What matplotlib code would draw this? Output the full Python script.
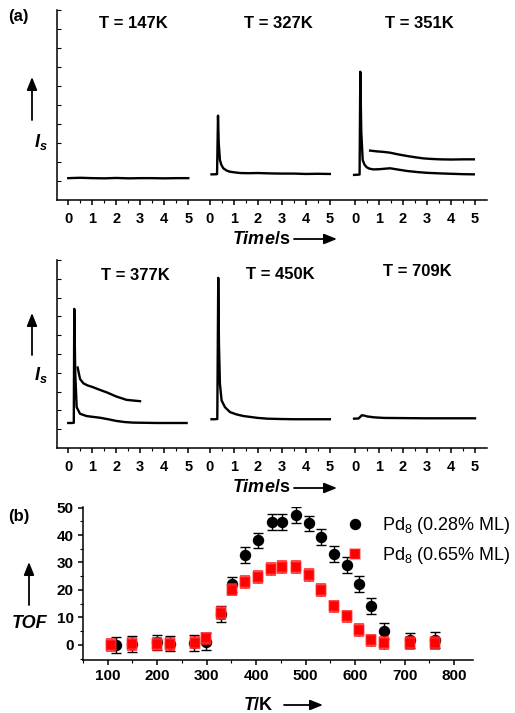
import matplotlib
matplotlib.use("Agg")
import matplotlib.pyplot as plt
import numpy as np

plt.rcParams['font.family'] = ['Liberation Sans', 'DejaVu Sans']
plt.rcParams['mathtext.fontset'] = 'custom'
plt.rcParams['mathtext.rm'] = 'Liberation Sans'
plt.rcParams['mathtext.it'] = 'Liberation Sans:italic'
plt.rcParams['mathtext.bf'] = 'Liberation Sans:bold'
plt.rcParams['mathtext.bfit'] = 'Liberation Sans:italic:bold'

# ---------------- data: panel (a) transients (time in s, intensity arb.) ----------------
seg_offsets = [0.0, 5.9, 11.95]
time_tick_labels = ["0", "1", "2", "3", "4", "5"]

top_titles = ["T = 147K", "T = 327K", "T = 351K"]
bot_titles = ["T = 377K", "T = 450K", "T = 709K"]

t147 = [0, 0.5, 1, 1.5, 2, 2.5, 3, 3.5, 4, 4.5, 5]
i147 = [1.15, 1.17, 1.15, 1.14, 1.16, 1.14, 1.15, 1.15, 1.14, 1.15, 1.15]

t327 = [0.07, 0.15, 0.30, 0.34, 0.37, 0.42, 0.48, 0.56, 0.7, 0.83, 1.0, 1.25, 1.6, 2.0, 2.5, 3, 3.5, 4, 4.5, 5]
i327 = [1.35, 1.35, 1.36, 4.44, 3.0, 2.1, 1.85, 1.67, 1.55, 1.49, 1.46, 1.42, 1.41, 1.42, 1.40, 1.39, 1.39, 1.37, 1.38, 1.37]

t351_low = [-0.04, 0.1, 0.19, 0.22, 0.26, 0.32, 0.4, 0.49, 0.6, 0.76, 1.0, 1.46, 1.8, 2.15, 2.6, 3.0, 3.54, 4.0, 4.5, 4.95]
i351_low = [1.32, 1.33, 1.34, 6.75, 3.6, 2.1, 1.85, 1.72, 1.65, 1.61, 1.62, 1.67, 1.60, 1.53, 1.47, 1.43, 1.40, 1.38, 1.36, 1.35]
t351_up = [0.63, 0.9, 1.2, 1.46, 1.8, 2.15, 2.5, 2.85, 3.2, 3.54, 4.0, 4.5, 4.95]
i351_up = [2.60, 2.56, 2.53, 2.49, 2.40, 2.32, 2.25, 2.19, 2.16, 2.14, 2.13, 2.14, 2.14]

t377_low = [0.0, 0.15, 0.23, 0.25, 0.29, 0.35, 0.49, 0.76, 1.0, 1.32, 1.7, 2.0, 2.35, 2.7, 3.2, 3.7, 4.3, 4.93]
i377_low = [1.33, 1.33, 1.34, 7.40, 4.0, 2.17, 1.82, 1.70, 1.66, 1.61, 1.52, 1.44, 1.38, 1.35, 1.34, 1.33, 1.33, 1.33]
t377_up = [0.39, 0.49, 0.63, 0.8, 1.04, 1.3, 1.6, 2.0, 2.43, 2.99]
i377_up = [4.28, 3.67, 3.44, 3.33, 3.23, 3.10, 2.96, 2.74, 2.56, 2.49]

t450 = [0.07, 0.2, 0.31, 0.35, 0.38, 0.42, 0.49, 0.63, 0.84, 1.1, 1.4, 1.7, 2.0, 2.4, 3.0, 3.5, 4.0, 4.5, 5.0]
i450 = [1.53, 1.53, 1.54, 9.05, 5.5, 3.4, 2.53, 2.17, 1.91, 1.79, 1.70, 1.65, 1.60, 1.56, 1.54, 1.53, 1.53, 1.53, 1.53]

t709 = [-0.04, 0.15, 0.28, 0.4, 0.5, 0.8, 1.2, 2.0, 3.0, 4.0, 5.0]
i709 = [1.56, 1.57, 1.74, 1.72, 1.68, 1.63, 1.60, 1.59, 1.58, 1.58, 1.58]

# ---------------- data: panel (b) TOF vs T ----------------
T_a = [116, 148, 199, 225, 275, 299, 328, 351, 378, 404, 431, 452, 481, 507, 531, 558, 583, 608, 632, 659, 711, 761]
TOF_a = [0.0, 0.3, 0.9, 0.5, 0.7, 1.2, 11.3, 22.0, 32.6, 38.1, 44.8, 44.8, 47.3, 44.3, 39.3, 33.2, 29.2, 22.3, 14.0, 5.1, 1.6, 1.8]
err_a = [2.9, 2.9, 2.8, 2.8, 2.8, 3.0, 3.0, 2.8, 2.9, 2.8, 2.8, 2.8, 2.8, 2.8, 2.9, 2.9, 2.9, 2.9, 2.9, 2.9, 2.8, 2.8]

T_b = [107, 148, 199, 225, 276, 299, 328, 351, 378, 404, 429, 452, 481, 507, 531, 558, 583, 608, 632, 659, 711, 761]
TOF_b = [0.0, 0.25, 0.25, 0.25, 0.85, 2.4, 11.6, 20.1, 22.8, 24.7, 27.7, 28.4, 28.3, 25.5, 19.9, 14.0, 10.4, 5.5, 1.6, 0.6, 0.6, 0.6]
err_b = [2.1] * 22

label_a = "Pd$_8$ (0.28% ML)"
label_b = "Pd$_8$ (0.65% ML)"
T_ticks = [100, 200, 300, 400, 500, 600, 700, 800]
TOF_ticks = [0, 10, 20, 30, 40, 50]

# ---------------- figure ----------------
W, H = 515, 713
fig = plt.figure(figsize=(W / 100, H / 100), dpi=100)


def fx(px):
    return px / W


def fy(py):
    return 1 - py / H


def style_a(ax):
    ax.set_xlim(-0.47, 17.45)
    ax.set_ylim(0, 10)
    for s in ['top', 'right']:
        ax.spines[s].set_visible(False)
    for s in ['left', 'bottom']:
        ax.spines[s].set_linewidth(1.1)
    ticks = []
    labels = []
    minors = []
    for off in seg_offsets:
        for k, lab in enumerate(time_tick_labels):
            ticks.append(off + k)
            labels.append(lab)
            if k < 5:
                minors.append(off + k + 0.5)
    ax.set_xticks(ticks)
    ax.set_xticklabels(labels, fontsize=10.5, fontweight='bold')
    ax.set_xticks(minors, minor=True)
    ax.set_yticks(np.arange(1, 11))
    ax.set_yticklabels([])
    ax.tick_params(axis='x', which='major', direction='out', length=3.5, width=1.1, pad=5)
    ax.tick_params(axis='x', which='minor', direction='out', length=2, width=0.8)
    ax.tick_params(axis='y', which='major', direction='in', length=3, width=0.8)


lw = 1.7
ax1 = fig.add_axes([fx(57), fy(200), fx(487) - fx(57), fy(10) - fy(200)])
style_a(ax1)
ax1.plot(np.array(t147) + seg_offsets[0], i147, color='black', lw=lw)
ax1.plot(np.array(t327) + seg_offsets[1], i327, color='black', lw=lw)
ax1.plot(np.array(t351_low) + seg_offsets[2], i351_low, color='black', lw=lw)
ax1.plot(np.array(t351_up) + seg_offsets[2], i351_up, color='black', lw=lw)

ax2 = fig.add_axes([fx(57), fy(448), fx(487) - fx(57), fy(260) - fy(448)])
style_a(ax2)
ax2.plot(np.array(t377_low) + seg_offsets[0], i377_low, color='black', lw=lw)
ax2.plot(np.array(t377_up) + seg_offsets[0], i377_up, color='black', lw=lw)
ax2.plot(np.array(t450) + seg_offsets[1], i450, color='black', lw=lw)
ax2.plot(np.array(t709) + seg_offsets[2], i709, color='black', lw=lw)

# titles
for xc, yc, txt in zip([133, 278, 419], [23, 23, 23], top_titles):
    fig.text(fx(xc), fy(yc), txt, ha='center', va='center', fontsize=12, fontweight='bold')
for xc, yc, txt in zip([135, 280, 417], [276, 274, 271], bot_titles):
    fig.text(fx(xc), fy(yc), txt, ha='center', va='center', fontsize=12, fontweight='bold')

arrow_kw = dict(arrowstyle='-|>,head_length=0.55,head_width=0.22', mutation_scale=14,
                color='black', lw=1.3, shrinkA=0, shrinkB=0)


def farrow(x0, y0, x1, y1):
    fig.add_artist(matplotlib.patches.FancyArrowPatch((fx(x0), fy(y0)), (fx(x1), fy(y1)),
                                                      transform=fig.transFigure, **arrow_kw))


# Is labels and arrows
for ycen, ya0, ya1 in [(140, 120, 77), (373, 355, 313)]:
    fig.text(fx(41), fy(ycen + 2), r"$\mathbfit{I}_{\mathbfit{s}}$", ha='center', va='center',
             fontsize=13)
    farrow(32, ya0, 32, ya1)

# Time/s labels
for yc in [239, 488]:
    fig.text(fx(232), fy(yc), r"$\mathbfit{Time}$/s", ha='left', va='center', fontsize=13,
             fontweight='bold')
    farrow(294, yc, 337, yc)

fig.text(fx(8), fy(16), "(a)", ha='left', va='center', fontsize=12, fontweight='bold')

# ---------------- panel (b) ----------------
ax3 = fig.add_axes([fx(83), fy(660), fx(473) - fx(83), fy(507) - fy(660)])
ax3.set_xlim(52, 838)
ax3.set_ylim(-5.5, 50.2)
for s in ['top', 'right']:
    ax3.spines[s].set_visible(False)
for s in ['left', 'bottom']:
    ax3.spines[s].set_linewidth(1.1)
ax3.set_xticks(T_ticks)
ax3.set_xticklabels([str(v) for v in T_ticks], fontsize=11, fontweight='bold')
ax3.set_xticks(np.arange(50, 850, 50), minor=True)
ax3.set_yticks(TOF_ticks)
ax3.set_yticklabels([str(v) for v in TOF_ticks], fontsize=11, fontweight='bold')
ax3.set_yticks(np.arange(-5, 51, 5), minor=True)
ax3.tick_params(axis='both', which='major', direction='out', length=3.5, width=1.1, pad=3)
ax3.tick_params(axis='both', which='minor', direction='out', length=2, width=0.8)

ax3.errorbar(T_a, TOF_a, yerr=err_a, fmt='o', color='black', ms=7.2, capsize=3.6,
             elinewidth=1.0, capthick=1.0, label=label_a, zorder=2)
ax3.errorbar(T_b, TOF_b, yerr=err_b, fmt='s', mfc='#ff0000', mec=(1.0, 0.25, 0.25, 0.55),
             mew=1.1, ms=6.8, capsize=3.4, elinewidth=1.0, capthick=1.0, ecolor='#ff1a1a',
             label=label_b, zorder=3)

handles, labels = ax3.get_legend_handles_labels()
leg_handles = [h[0] for h in handles]
ax3.legend(leg_handles, labels, loc='upper left', bbox_to_anchor=(0.674, 0.945), frameon=False,
           fontsize=13, handlelength=1.0, handletextpad=1.0, borderpad=0, borderaxespad=0,
           labelspacing=0.5)

fig.text(fx(8), fy(517), "(b)", ha='left', va='center', fontsize=12, fontweight='bold')
fig.text(fx(30), fy(623), "TOF", ha='center', va='center', fontsize=13,
         fontweight='bold', fontstyle='italic')
farrow(29, 605, 29, 562)
fig.text(fx(243), fy(705), r"$\mathbfit{T}$/K", ha='left', va='center', fontsize=13,
         fontweight='bold')
farrow(284, 705, 323, 705)

fig.savefig("out.png", dpi=100)
